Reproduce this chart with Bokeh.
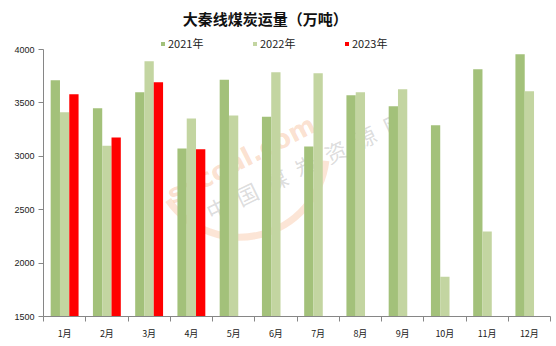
from bokeh.plotting import figure
from bokeh.models import Range1d, FixedTicker, Label, Legend, LegendItem
from bokeh.embed import file_html
from bokeh.resources import INLINE

months = ["1月", "2月", "3月", "4月", "5月", "6月", "7月", "8月", "9月", "10月", "11月", "12月"]
v2021 = [3712, 3449, 3600, 3074, 3718, 3371, 3093, 3571, 3468, 3290, 3815, 3956]
v2022 = [3412, 3099, 3891, 3355, 3381, 3787, 3778, 3600, 3628, 1872, 2295, 3609]
v2023 = [3581, 3177, 3693, 3065]
y_ticks = [1500, 2000, 2500, 3000, 3500, 4000]
series_names = ["2021年", "2022年", "2023年"]
colors = ["#A3C17A", "#C3D5A1", "#FF0000"]

FONT = "Noto Sans CJK SC"

p = figure(width=556, height=346, output_backend="svg", toolbar_location=None,
           x_range=Range1d(0, 12), y_range=Range1d(1500, 4459),
           min_border_left=43, min_border_right=6, min_border_top=0, min_border_bottom=30)
p.outline_line_color = None
p.xgrid.visible = False
p.ygrid.visible = False
p.background_fill_color = "white"

# watermark (decoration only)
p.arc(x=[4.64], y=[3057], radius=87, radius_units="screen", start_angle=3.75, end_angle=6.16,
      direction="anticlock", line_color="#F7B58A", line_width=7, line_alpha=0.35)
p.text(x=[4.68], y=[2970], text=["sxcoal.com"], angle=0.47, text_align="center", text_baseline="middle",
       text_color="#F29A62", text_alpha=0.3, text_font_size="26px", text_font_style="bold",
       text_font={"value": "DejaVu Sans"})
wm_chars = list("中国煤炭资源网")
p.text(x=[4.11 + 0.698 * i for i in range(len(wm_chars))],
       y=[2521 + 133 * i for i in range(len(wm_chars))],
       text=wm_chars, angle=0.45, text_align="center", text_baseline="middle",
       text_color="#8A8A8A", text_alpha=0.3, text_font_size="22px",
       text_font={"value": FONT})

w = 0.22
xs = [i + 0.5 for i in range(12)]
r1 = p.vbar(x=[x - w for x in xs], top=v2021, bottom=1500, width=w, fill_color=colors[0], line_color=None)
r2 = p.vbar(x=xs, top=v2022, bottom=1500, width=w, fill_color=colors[1], line_color=None)
r3 = p.vbar(x=[x + w for x in xs[:len(v2023)]], top=v2023, bottom=1500, width=w,
            fill_color=colors[2], line_color=None)

# axes
xa = p.xaxis[0]
xa.ticker = FixedTicker(ticks=xs, minor_ticks=list(range(13)))
xa.major_label_overrides = {x: m for x, m in zip(xs, months)}
xa.major_tick_out = 0
xa.major_tick_in = 0
xa.minor_tick_out = 5
xa.minor_tick_in = 0
xa.minor_tick_line_color = "#868686"
xa.axis_line_color = "#868686"
xa.major_label_text_font = FONT
xa.major_label_text_font_size = "9px"
xa.major_label_text_color = "#222222"
xa.major_label_standoff = 5

ya = p.yaxis[0]
ya.ticker = FixedTicker(ticks=y_ticks, minor_ticks=[])
ya.bounds = (1500, 4000)
ya.major_tick_out = 5
ya.major_tick_in = 0
ya.major_tick_line_color = "#868686"
ya.axis_line_color = "#868686"
ya.minor_tick_line_color = None
ya.major_label_text_font = "Liberation Sans"
ya.major_label_text_font_size = "9px"
ya.major_label_text_color = "#222222"
ya.major_label_standoff = 4

# title
p.add_layout(Label(x=5.25, y=4290, text="大秦线煤炭运量（万吨）", text_align="center",
                   text_baseline="middle", text_font=FONT, text_font_size="15px",
                   text_font_style="bold", text_color="#111111"))

legend = Legend(items=[LegendItem(label=series_names[0], renderers=[r1]),
                       LegendItem(label=series_names[1], renderers=[r2]),
                       LegendItem(label=series_names[2], renderers=[r3])],
                orientation="horizontal", location=(117, 265),
                glyph_width=5, glyph_height=5, label_width=84, label_height=12,
                label_standoff=3, spacing=0, padding=0, margin=0,
                border_line_alpha=0, background_fill_alpha=0,
                label_text_font=FONT, label_text_font_size="11px", label_text_color="#222222")
p.add_layout(legend)

open("out.html", "w").write(file_html(p, INLINE))
